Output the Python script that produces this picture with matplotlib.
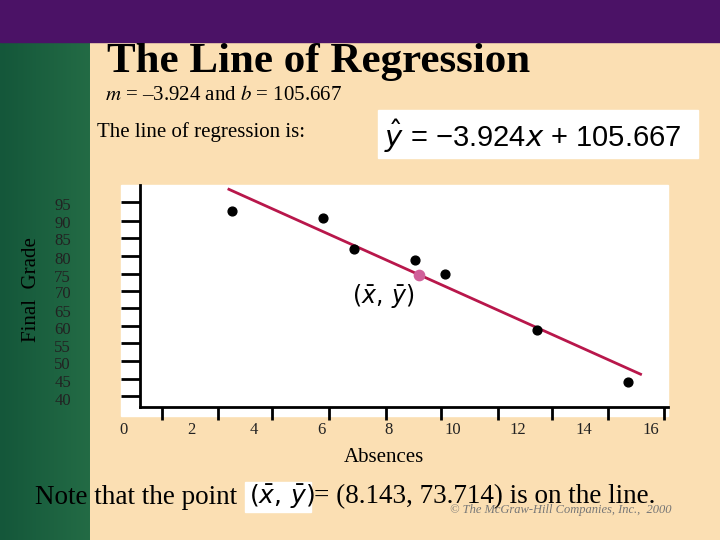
import matplotlib
matplotlib.use("Agg")
import matplotlib.pyplot as plt
import numpy as np
from matplotlib.patches import Rectangle

absences = [2, 5, 6, 8, 9, 12, 15]
grades = [92, 90, 81, 78, 74, 58, 43]
m, b = -3.924, 105.667
xbar, ybar = 8.143, 73.714
ytick_labels = ["95", "90", "85", "80", "75", "70", "65", "60", "55", "50", "45", "40"]
xtick_labels = ["0", "2", "4", "6", "8", "10", "12", "14", "16"]

W, H = 720, 540
fig = plt.figure(figsize=(7.2, 5.4), dpi=100)
fig.patch.set_facecolor("#fbdfb3")

def fx(px): return px / W
def fy(py): return 1 - py / H

bg = fig.add_axes([0, 0, 1, 1], zorder=-10)
bg.axis("off")
grad = np.linspace(0, 1, 90)[None, :]
bg.imshow(grad, extent=[0, 90, H, 0], cmap=matplotlib.colors.LinearSegmentedColormap.from_list("g", ["#14573a", "#236b45"]), aspect="auto")
bg.add_patch(Rectangle((0, 0), W, 42, color="#4b1266"))
bg.add_patch(Rectangle((121, 185), 547, 231, color="white"))
bg.add_patch(Rectangle((378, 110), 320, 48, color="white"))
bg.add_patch(Rectangle((245, 482), 66, 30, color="white"))
bg.set_xlim(0, W); bg.set_ylim(H, 0)

serif = "Liberation Serif"
sans = "Liberation Sans"
fig.text(fx(319), fy(62), "The Line of Regression", family=serif, weight="bold", fontsize=31, ha="center", va="center")
fig.text(fx(105), fy(96), r"$\mathit{m}$ = –3.924 and $\mathit{b}$ = 105.667", family=serif, fontsize=15, va="center", math_fontfamily="stix")
fig.text(fx(97), fy(132), "The line of regression is:", family=serif, fontsize=15, va="center")
fig.text(fx(384), fy(136), r"$\hat{y}$ = −3.924$x$ + 105.667", family=sans, fontsize=21, va="center")
fig.text(fx(32), fy(290), "Final  Grade", family=serif, fontsize=15, rotation=90, ha="center", va="center")
fig.text(fx(384), fy(458), "Absences", family=serif, fontsize=15, ha="center", va="center")
fig.text(fx(35), fy(497), "Note that the point", family=serif, fontsize=19.5, va="center")
fig.text(fx(249), fy(497), r"$(\bar{x},\,\bar{y})$", family=sans, fontsize=18, va="center")
fig.text(fx(314), fy(497), "= (8.143, 73.714) is on the line.", family=serif, fontsize=19.5, va="center")
fig.text(fx(450), fy(510), "© The McGraw-Hill Companies, Inc.,  2000", family=serif, style="italic", fontsize=9, color="#777777", va="center")

ypos = [206, 224, 241, 260, 278, 294, 313, 330, 348, 365, 383, 401]
for t, p in zip(ytick_labels, ypos):
    fig.text(fx(71), fy(p), t, family=serif, fontsize=12, ha="right", va="center", color="#222222")
xpos = [123, 191, 254, 321, 389, 453, 518, 584, 651]
for t, p in zip(xtick_labels, xpos):
    fig.text(fx(p), fy(430), t, family=serif, fontsize=12, ha="center", va="center", color="#222222")

ax = fig.add_axes([fx(140), fy(407), (668 - 140) / W, (407 - 185) / H])
ax.set_facecolor("white")
ax.set_xlim(-1.016, 16.30)
ax.set_ylim(35.84, 99.45)
for s in ["top", "right"]:
    ax.spines[s].set_visible(False)
for s in ["left", "bottom"]:
    ax.spines[s].set_linewidth(2)
ax.xaxis.set_major_locator(matplotlib.ticker.FixedLocator(2 + (np.array([162, 218, 272, 329, 386, 441, 498, 552, 608, 664]) - 232) / 30.5))
ax.yaxis.set_major_locator(matplotlib.ticker.FixedLocator(92 - (np.array([202, 221, 238, 256, 274, 291, 308, 326, 343, 361, 379, 396]) - 211) / 3.49))
ax.tick_params(axis="y", direction="out", length=14, width=2, labelleft=False)
ax.tick_params(axis="x", direction="out", length=9, width=2, labelbottom=False)

xl = np.array([1.9, 15.4])
ax.plot(xl, m * xl + b, color="#b8174b", lw=2)
ax.scatter(absences, grades, s=40, color="black", zorder=3)
ax.scatter([xbar], [ybar], s=55, color="#d0609a", zorder=4)
ax.text(xbar - 1.2, ybar - 6, r"$(\bar{x},\,\bar{y})$", fontsize=17, ha="center", va="center")

fig.savefig("out.png", dpi=100, facecolor=fig.get_facecolor())
